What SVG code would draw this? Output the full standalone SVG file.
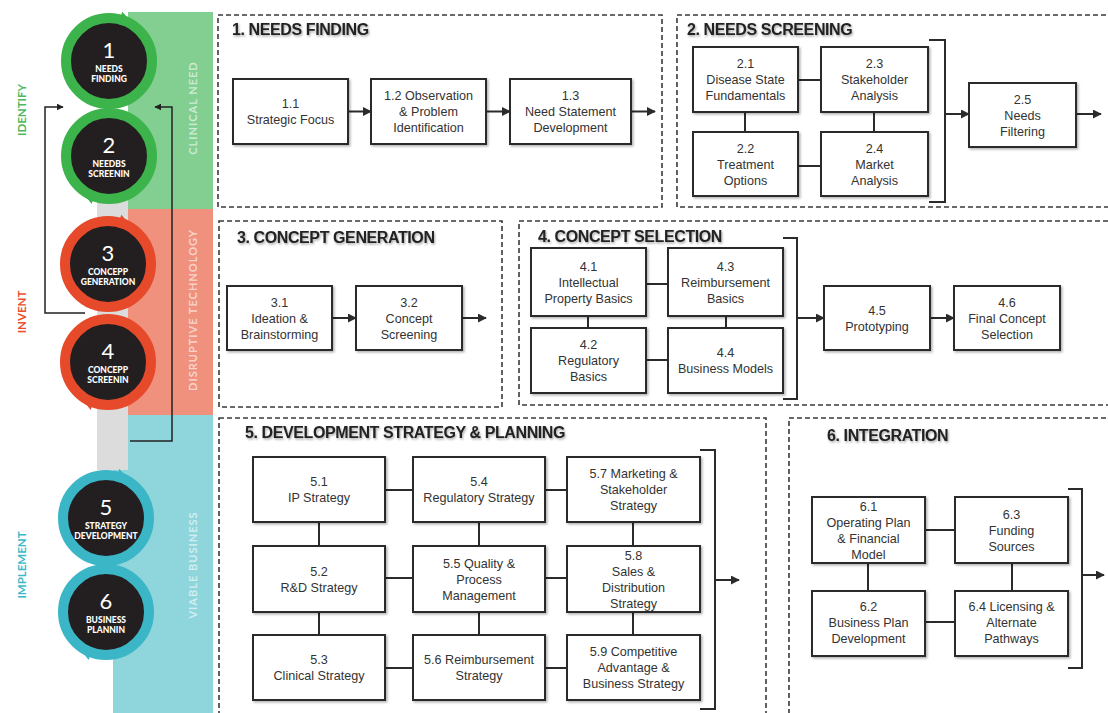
<svg xmlns="http://www.w3.org/2000/svg" width="1108" height="713" viewBox="0 0 1108 713">
<style>
.panel{fill:none;stroke:#3a3a3a;stroke-width:1.6;stroke-dasharray:5 3}
.box{fill:#fff;stroke:#2b2b2b;stroke-width:2;filter:url(#sh)}
.lbl{font-family:"Liberation Sans",Arial,sans-serif;font-size:12.6px;fill:#333;text-anchor:middle}
.title{font-family:"Liberation Sans",Arial,sans-serif;font-weight:bold;font-size:16px;letter-spacing:-0.4px;fill:#222;filter:url(#tsh)}
.conn{stroke:#2b2b2b;stroke-width:2;fill:none}
.arr{stroke:#2b2b2b;stroke-width:2;fill:none;marker-end:url(#ah)}
.thin{stroke:#222;stroke-width:1.5;fill:none;marker-end:url(#ah2)}
.num{font-family:Lato,"Noto Sans",sans-serif;font-size:22px;fill:#fff;text-anchor:middle}
.cl{font-family:Lato,"Noto Sans",sans-serif;font-weight:900;font-size:8.5px;fill:#fff;text-anchor:middle}
.side{font-family:Lato,"Noto Sans",sans-serif;font-weight:bold;font-size:11.5px;text-anchor:middle}
.band{font-family:Lato,"Noto Sans",sans-serif;font-weight:bold;font-size:11px;fill:#fff;fill-opacity:0.6;text-anchor:middle;letter-spacing:1px}
.black{fill:#231f20}
</style>
<defs>
<filter id="sh" x="-10%" y="-10%" width="130%" height="130%"><feDropShadow dx="1.5" dy="1.5" stdDeviation="1.2" flood-color="#000" flood-opacity="0.3"/></filter>
<filter id="tsh" x="-5%" y="-30%" width="115%" height="180%"><feDropShadow dx="1" dy="1.5" stdDeviation="1" flood-color="#000" flood-opacity="0.35"/></filter>
<marker id="ah" viewBox="0 0 10 10" refX="9" refY="5" markerWidth="9" markerHeight="9" markerUnits="userSpaceOnUse" orient="auto"><path d="M0,0 L10,5 L0,10 z" fill="#2b2b2b"/></marker>
<marker id="ah2" viewBox="0 0 10 10" refX="9" refY="5" markerWidth="7" markerHeight="7" markerUnits="userSpaceOnUse" orient="auto"><path d="M0,0 L10,5 L0,10 z" fill="#222"/></marker>
</defs>
<rect width="1108" height="713" fill="#fff"/>

<!-- left bands -->
<g id="bands">
<rect x="128" y="12" width="85" height="197" fill="#82cf91"/>
<rect x="128" y="209" width="85" height="206" fill="#f0917e"/>
<rect x="113" y="415" width="100" height="298" fill="#8ed6dc"/>
<rect x="97" y="190" width="31" height="280" fill="#dcdcdc"/>
<text class="band" transform="translate(197,108) rotate(-90)">CLINICAL NEED</text>
<text class="band" transform="translate(197,310) rotate(-90)">DISRUPTIVE TECHNOLOGY</text>
<text class="band" transform="translate(197,565) rotate(-90)">VIABLE BUSINESS</text>
<text class="side" fill="#4cb85a" transform="translate(26,110) rotate(-90)">IDENTIFY</text>
<text class="side" fill="#e8502e" transform="translate(26,312) rotate(-90)">INVENT</text>
<text class="side" fill="#3cb8c8" transform="translate(26,565) rotate(-90)">IMPLEMENT</text>
</g>

<g id="loop-connectors">
<path class="thin" d="M85,313 H45 V107 H63"/>
<path class="thin" d="M130,441 H172 V107 H155"/>
</g>

<!-- stage circles -->
<g id="c1">
<circle cx="109" cy="61" r="43" fill="#231f20" stroke="#3cb44b" stroke-width="10"/>
<polygon points="122.2,11.7 118.8,24.3 139.4,30.6" fill="#3cb44b"/>
<text class="num" x="109" y="58">1</text>
<text class="cl" x="109" y="72">NEEDS</text>
<text class="cl" x="109" y="82">FINDING</text>
</g>
<g id="c2">
<circle cx="109" cy="156" r="43" fill="#231f20" stroke="#3cb44b" stroke-width="10"/>
<polygon points="91.6,203.9 96,191.7 76.1,183.6" fill="#3cb44b"/>
<text class="num" x="109" y="153">2</text>
<text class="cl" x="109" y="167">NEEDBS</text>
<text class="cl" x="109" y="177">SCREENIN</text>
</g>
<g id="c3">
<circle cx="108" cy="264" r="43" fill="#231f20" stroke="#e64a2a" stroke-width="10"/>
<polygon points="121.2,214.7 117.8,227.3 138.4,233.6" fill="#e64a2a"/>
<text class="num" x="108" y="261">3</text>
<text class="cl" x="108" y="275">CONCEPP</text>
<text class="cl" x="108" y="285">GENERATION</text>
</g>
<g id="c4">
<circle cx="108" cy="362" r="43" fill="#231f20" stroke="#e64a2a" stroke-width="10"/>
<polygon points="90.6,409.9 95,397.7 75.1,389.6" fill="#e64a2a"/>
<text class="num" x="108" y="359">4</text>
<text class="cl" x="108" y="373">CONCEPP</text>
<text class="cl" x="108" y="383">SCREENIN</text>
</g>
<g id="c5">
<circle cx="106" cy="518" r="43" fill="#231f20" stroke="#3bb6c6" stroke-width="10"/>
<polygon points="119.2,468.7 115.8,481.3 136.4,487.6" fill="#3bb6c6"/>
<text class="num" x="106" y="515">5</text>
<text class="cl" x="106" y="529">STRATEGY</text>
<text class="cl" x="106" y="539">DEVELOPMENT</text>
</g>
<g id="c6">
<circle cx="106" cy="612" r="43" fill="#231f20" stroke="#3bb6c6" stroke-width="10"/>
<polygon points="88.6,659.9 93,647.7 73.1,639.6" fill="#3bb6c6"/>
<text class="num" x="106" y="609">6</text>
<text class="cl" x="106" y="623">BUSINESS</text>
<text class="cl" x="106" y="633">PLANNIN</text>
</g>

<!-- panels -->
<g id="panels">
<rect class="panel" x="218" y="15" width="444" height="192"/>
<rect class="panel" x="677" y="15" width="440" height="192"/>
<rect class="panel" x="219" y="221" width="283" height="186"/>
<rect class="panel" x="519" y="221" width="600" height="184"/>
<rect class="panel" x="219" y="418" width="547" height="310"/>
<rect class="panel" x="789" y="418" width="330" height="310"/>
<text class="title" x="232" y="35">1. NEEDS FINDING</text>
<text class="title" x="687" y="35">2. NEEDS SCREENING</text>
<text class="title" x="237" y="243">3. CONCEPT GENERATION</text>
<text class="title" x="538" y="242">4. CONCEPT SELECTION</text>
<text class="title" x="245" y="438">5. DEVELOPMENT STRATEGY &amp; PLANNING</text>
<text class="title" x="827" y="441">6. INTEGRATION</text>
</g>

<g id="connectors">
<path class="arr" d="M348,111.5 H371"/>
<path class="arr" d="M486,111.5 H510"/>
<path class="arr" d="M631,111.5 H655"/>
<path class="conn" d="M798,80 H821 M745,112 V132 M874,112 V132 M798,166 H821"/>
<path class="conn" d="M929,40 H945 V202 H929"/>
<path class="arr" d="M945,114 H969"/>
<path class="arr" d="M1076,114 H1101"/>
<path class="arr" d="M332,318 H356"/>
<path class="arr" d="M462,318 H486"/>
<path class="conn" d="M646,284 H668 M588,316 V328 M726,316 V328 M646,360 H668"/>
<path class="conn" d="M783,238 H797 V399 H783"/>
<path class="arr" d="M797,318 H824"/>
<path class="arr" d="M930,318 H954"/>
<path class="conn" d="M385,490 H413 M545,490 H567 M385,578 H413 M545,578 H567 M385,668 H413 M545,668 H567"/>
<path class="conn" d="M319,522 V546 M319,612 V635 M479,522 V546 M479,612 V635 M633,522 V546 M633,612 V635"/>
<path class="conn" d="M700,450 H715 V709 H700"/>
<path class="arr" d="M715,580 H739"/>
<path class="conn" d="M925,530 H955 M868,563 V591 M1012,563 V591 M925,622 H955"/>
<path class="conn" d="M1068,489 H1082 V668 H1068"/>
<path class="arr" d="M1082,575 H1104"/>
</g>

<!-- panel 1 -->
<g id="n1-1"><rect class="box" x="233" y="79" width="115" height="65"/><text class="lbl"><tspan x="290.5" y="108">1.1</tspan><tspan x="290.5" y="124">Strategic Focus</tspan></text></g>
<g id="n1-2"><rect class="box" x="371" y="79" width="115" height="65"/><text class="lbl"><tspan x="428.5" y="100">1.2 Observation</tspan><tspan x="428.5" y="116">&amp; Problem</tspan><tspan x="428.5" y="132">Identification</tspan></text></g>
<g id="n1-3"><rect class="box" x="510" y="79" width="121" height="65"/><text class="lbl"><tspan x="570.5" y="100">1.3</tspan><tspan x="570.5" y="116">Need Statement</tspan><tspan x="570.5" y="132">Development</tspan></text></g>

<!-- panel 2 -->
<g id="n2-1"><rect class="box" x="693" y="47" width="105" height="65"/><text class="lbl"><tspan x="745.5" y="68">2.1</tspan><tspan x="745.5" y="84">Disease State</tspan><tspan x="745.5" y="100">Fundamentals</tspan></text></g>
<g id="n2-3"><rect class="box" x="821" y="47" width="107" height="65"/><text class="lbl"><tspan x="874.5" y="68">2.3</tspan><tspan x="874.5" y="84">Stakeholder</tspan><tspan x="874.5" y="100">Analysis</tspan></text></g>
<g id="n2-2"><rect class="box" x="693" y="132" width="105" height="64"/><text class="lbl"><tspan x="745.5" y="152.5">2.2</tspan><tspan x="745.5" y="168.5">Treatment</tspan><tspan x="745.5" y="184.5">Options</tspan></text></g>
<g id="n2-4"><rect class="box" x="821" y="132" width="107" height="64"/><text class="lbl"><tspan x="874.5" y="152.5">2.4</tspan><tspan x="874.5" y="168.5">Market</tspan><tspan x="874.5" y="184.5">Analysis</tspan></text></g>
<g id="n2-5"><rect class="box" x="969" y="83" width="107" height="64"/><text class="lbl"><tspan x="1022.5" y="103.5">2.5</tspan><tspan x="1022.5" y="119.5">Needs</tspan><tspan x="1022.5" y="135.5">Filtering</tspan></text></g>

<!-- panel 3 -->
<g id="n3-1"><rect class="box" x="227" y="286" width="105" height="64"/><text class="lbl"><tspan x="279.5" y="306.5">3.1</tspan><tspan x="279.5" y="322.5">Ideation &amp;</tspan><tspan x="279.5" y="338.5">Brainstorming</tspan></text></g>
<g id="n3-2"><rect class="box" x="356" y="286" width="106" height="64"/><text class="lbl"><tspan x="409" y="306.5">3.2</tspan><tspan x="409" y="322.5">Concept</tspan><tspan x="409" y="338.5">Screening</tspan></text></g>

<!-- panel 4 -->
<g id="n4-1"><rect class="box" x="531" y="248" width="115" height="68"/><text class="lbl"><tspan x="588.5" y="270.5">4.1</tspan><tspan x="588.5" y="286.5">Intellectual</tspan><tspan x="588.5" y="302.5">Property Basics</tspan></text></g>
<g id="n4-3"><rect class="box" x="668" y="248" width="115" height="68"/><text class="lbl"><tspan x="725.5" y="270.5">4.3</tspan><tspan x="725.5" y="286.5">Reimbursement</tspan><tspan x="725.5" y="302.5">Basics</tspan></text></g>
<g id="n4-2"><rect class="box" x="531" y="328" width="115" height="65"/><text class="lbl"><tspan x="588.5" y="349">4.2</tspan><tspan x="588.5" y="365">Regulatory</tspan><tspan x="588.5" y="381">Basics</tspan></text></g>
<g id="n4-4"><rect class="box" x="668" y="328" width="115" height="65"/><text class="lbl"><tspan x="725.5" y="357">4.4</tspan><tspan x="725.5" y="373">Business Models</tspan></text></g>
<g id="n4-5"><rect class="box" x="824" y="286" width="106" height="64"/><text class="lbl"><tspan x="877" y="314.5">4.5</tspan><tspan x="877" y="330.5">Prototyping</tspan></text></g>
<g id="n4-6"><rect class="box" x="954" y="286" width="106" height="64"/><text class="lbl"><tspan x="1007" y="306.5">4.6</tspan><tspan x="1007" y="322.5">Final Concept</tspan><tspan x="1007" y="338.5">Selection</tspan></text></g>

<!-- panel 5 -->
<g id="n5-1"><rect class="box" x="253" y="457" width="132" height="65"/><text class="lbl"><tspan x="319" y="486">5.1</tspan><tspan x="319" y="502">IP Strategy</tspan></text></g>
<g id="n5-4"><rect class="box" x="413" y="457" width="132" height="65"/><text class="lbl"><tspan x="479" y="486">5.4</tspan><tspan x="479" y="502">Regulatory Strategy</tspan></text></g>
<g id="n5-7"><rect class="box" x="567" y="457" width="133" height="65"/><text class="lbl"><tspan x="633.5" y="478">5.7 Marketing &amp;</tspan><tspan x="633.5" y="494">Stakeholder</tspan><tspan x="633.5" y="510">Strategy</tspan></text></g>
<g id="n5-2"><rect class="box" x="253" y="546" width="132" height="66"/><text class="lbl"><tspan x="319" y="575.5">5.2</tspan><tspan x="319" y="591.5">R&amp;D Strategy</tspan></text></g>
<g id="n5-5"><rect class="box" x="413" y="546" width="132" height="66"/><text class="lbl"><tspan x="479" y="567.5">5.5 Quality &amp;</tspan><tspan x="479" y="583.5">Process</tspan><tspan x="479" y="599.5">Management</tspan></text></g>
<g id="n5-8"><rect class="box" x="567" y="546" width="133" height="66"/><text class="lbl"><tspan x="633.5" y="559.5">5.8</tspan><tspan x="633.5" y="575.5">Sales &amp;</tspan><tspan x="633.5" y="591.5">Distribution</tspan><tspan x="633.5" y="607.5">Strategy</tspan></text></g>
<g id="n5-3"><rect class="box" x="253" y="635" width="132" height="65"/><text class="lbl"><tspan x="319" y="664">5.3</tspan><tspan x="319" y="680">Clinical Strategy</tspan></text></g>
<g id="n5-6"><rect class="box" x="413" y="635" width="132" height="65"/><text class="lbl"><tspan x="479" y="664">5.6 Reimbursement</tspan><tspan x="479" y="680">Strategy</tspan></text></g>
<g id="n5-9"><rect class="box" x="567" y="635" width="133" height="65"/><text class="lbl"><tspan x="633.5" y="656">5.9 Competitive</tspan><tspan x="633.5" y="672">Advantage &amp;</tspan><tspan x="633.5" y="688">Business Strategy</tspan></text></g>

<!-- panel 6 -->
<g id="n6-1"><rect class="box" x="812" y="497" width="113" height="66"/><text class="lbl"><tspan x="868.5" y="511">6.1</tspan><tspan x="868.5" y="527">Operating Plan</tspan><tspan x="868.5" y="543">&amp; Financial</tspan><tspan x="868.5" y="559">Model</tspan></text></g>
<g id="n6-3"><rect class="box" x="955" y="497" width="113" height="66"/><text class="lbl"><tspan x="1011.5" y="518.5">6.3</tspan><tspan x="1011.5" y="534.5">Funding</tspan><tspan x="1011.5" y="550.5">Sources</tspan></text></g>
<g id="n6-2"><rect class="box" x="812" y="591" width="113" height="65"/><text class="lbl"><tspan x="868.5" y="611">6.2</tspan><tspan x="868.5" y="627">Business Plan</tspan><tspan x="868.5" y="643">Development</tspan></text></g>
<g id="n6-4"><rect class="box" x="955" y="591" width="113" height="65"/><text class="lbl"><tspan x="1011.5" y="611">6.4 Licensing &amp;</tspan><tspan x="1011.5" y="627">Alternate</tspan><tspan x="1011.5" y="643">Pathways</tspan></text></g>
</svg>
